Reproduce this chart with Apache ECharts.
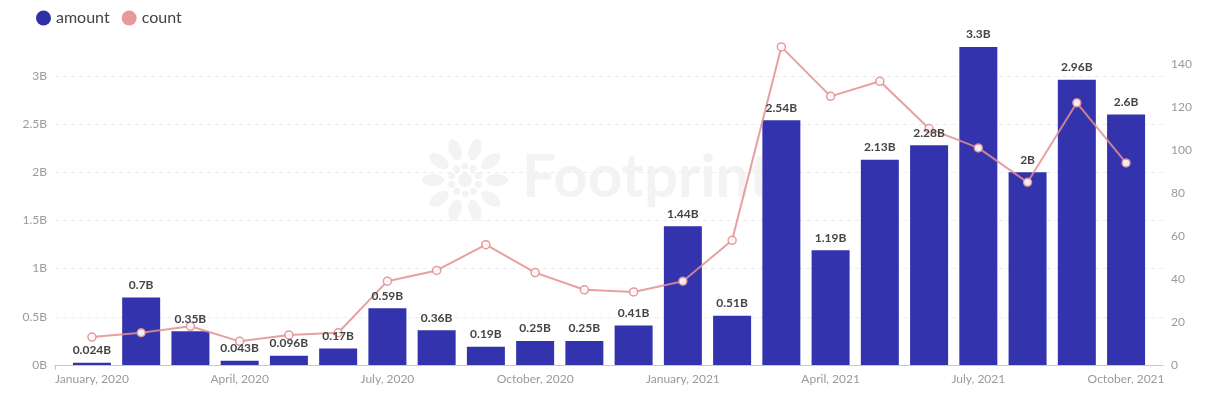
<!DOCTYPE html>
<html><head><meta charset="utf-8">
<script src="https://cdn.jsdelivr.net/npm/echarts@6/dist/echarts.min.js"></script>
<style>html,body{margin:0;padding:0;background:#fff}#c{width:1211px;height:393px}</style>
</head><body><div id="c"></div>
<script>
const months = ['January, 2020','February, 2020','March, 2020','April, 2020','May, 2020','June, 2020','July, 2020','August, 2020','September, 2020','October, 2020','November, 2020','December, 2020','January, 2021','February, 2021','March, 2021','April, 2021','May, 2021','June, 2021','July, 2021','August, 2021','September, 2021','October, 2021'];
const amount = [0.024,0.7,0.35,0.043,0.096,0.17,0.59,0.36,0.19,0.25,0.25,0.41,1.44,0.51,2.54,1.19,2.13,2.28,3.3,2,2.96,2.6];
const count = [13,15,18,11,14,15,39,44,56,43,35,34,39,58,148,125,132,110,101,85,122,94];
const xLabelIdx = [0,3,6,9,12,15,18,21];

const FONT = 'Lato, "Noto Sans", sans-serif';
const chart = echarts.init(document.getElementById('c'), null, {renderer:'canvas'});

// watermark icon petals
const petals = [];
for (let k = 0; k < 10; k++) {
  const a = k * Math.PI * 2 / 10;
  const r = 32;
  petals.push({
    type:'ellipse', x: 465 + Math.cos(a)*r, y: 180 + Math.sin(a)*r, rotation: -a,
    shape:{cx:0, cy:0, rx:11, ry:6}, style:{fill:'#f3f3f3'}, silent:true, z:-1
  });
  petals.push({
    type:'circle', x: 465 + Math.cos(a+0.3)*14, y: 180 + Math.sin(a+0.3)*14,
    shape:{cx:0, cy:0, r:3.5}, style:{fill:'#f3f3f3'}, silent:true, z:-1
  });
}
petals.push({type:'circle', shape:{cx:465, cy:180, r:7}, style:{fill:'#f3f3f3'}, silent:true, z:-1});

chart.setOption({
  animation:false,
  textStyle:{fontFamily:FONT},
  graphic: petals.concat([{
    type:'text', left:522, top:148, silent:true, z:-1,
    style:{text:'Footprint', fill:'#f3f3f3', font:'bold 60px Lato, sans-serif'}
  }]),
  legend:{
    left:31, top:5, icon:'circle', itemWidth:15, itemHeight:15, itemGap:12,
    textStyle:{fontSize:16, color:'#444', fontFamily:FONT},
    data:[
      {name:'amount', itemStyle:{color:'#2f2fa8'}},
      {name:'count', itemStyle:{color:'#e58e8e', borderWidth:0}}
    ]
  },
  grid:{left:55, right:48, top:31, bottom:28},
  xAxis:{
    type:'value', min:-0.75, max:21.75,
    splitLine:{show:false},
    axisLine:{show:true, lineStyle:{color:'#c8c8c8'}},
    axisTick:{show:true, customValues:[-0.75], length:5, lineStyle:{color:'#c8c8c8'}},
    axisLabel:{customValues:xLabelIdx, color:'#9a9a9a', fontSize:12, margin:8, fontFamily:FONT,
      formatter:v => months[Math.round(v)]}
  },
  yAxis:[{
    type:'value', min:0, max:3.465, interval:0.5,
    axisLine:{show:false}, axisTick:{show:false},
    axisLabel:{color:'#9a9a9a', fontSize:12, margin:8, showMaxLabel:false, fontFamily:FONT,
      formatter:v => v + 'B'},
    splitLine:{show:true, showMaxLine:false, lineStyle:{color:'#ececec', type:[4,4]}}
  },{
    type:'value', min:0, max:155.4, interval:20,
    axisLine:{show:false}, axisTick:{show:false},
    axisLabel:{color:'#9a9a9a', fontSize:12, margin:8, showMaxLabel:false, fontFamily:FONT},
    splitLine:{show:false}
  }],
  series:[{
    name:'amount', type:'bar', yAxisIndex:0, barWidth:38, z:2,
    itemStyle:{color:'#3333ad'},
    data: amount.map((v,i) => [i, v])
  },{
    name:'count', type:'line', yAxisIndex:1, z:3,
    symbol:'circle', symbolSize:8,
    itemStyle:{color:'#fff', borderColor:'#e38f8f', borderWidth:1.5, opacity:0.9},
    lineStyle:{color:'#e38f8f', width:2, opacity:0.85},
    data: count.map((v,i) => [i, v])
  },{
    name:'amountLabels', type:'scatter', yAxisIndex:0, z:5, silent:true,
    symbolSize:1, itemStyle:{color:'rgba(0,0,0,0)', opacity:1},
    label:{show:true, position:'top', distance:6, color:'#444', opacity:1, fontWeight:'bold', fontSize:12, fontFamily:FONT,
      formatter:p => p.value[1] + 'B'},
    data: amount.map((v,i) => [i, v])
  }],
  color:['#3333ad','#e38f8f','#444']
});
</script></body></html>
